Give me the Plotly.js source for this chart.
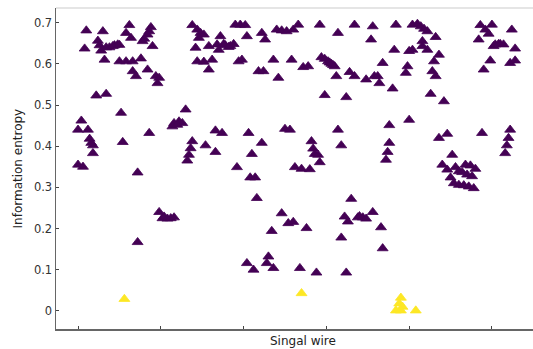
<!DOCTYPE html>
<html>
<head>
<meta charset="utf-8">
<script src="https://cdn.plot.ly/plotly-3.0.1.min.js"></script>
<style>html,body{margin:0;padding:0;background:#fff;}#chart{width:533px;height:349px;}</style>
</head>
<body>
<div id="chart"></div>
<script>
// Signal wire index and information entropy, cluster 0 (purple)
const wireA = [5,15,31,29,32,12,13,14,4,19,22,24,17,21,25,16,25,29,33,33,35,11,17,26,2,0,6,7,8,9,9,27,0,3,36,36,
  44,43,42,40,39,45,38,42,47,49,48,69,72,74,76,73,71,79,72,76,79,81,65,61,58,63,57,60,43,69,68,67,66,77,49,51,52,54,56,58,
  83,87,83,95,98,101,102,86,84,89,92,94,85,88,91,111,113,120,123,126,130,97,99,109,112,118,129,121,103,111,105,125,128,96,104,107,131,108,123,127,130,117,102,106,115,114,118,134,
  133,146,157,167,177,178,147,149,151,152,153,154,155,136,139,156,164,167,174,179,149,162,157,159,141,142,143,145,146,135,140,165,161,163,169,170,172,174,178,138,159,144,162,
  192,202,205,207,209,211,216,208,208,211,191,200,202,218,215,184,199,198,214,216,181,182,190,213,221,188,200,188,187,186,218,223,226,220,223,225,227,183,184,
  243,250,246,248,242,262,251,252,254,255,257,264,249,245,261,264,244,261,260,259,258,228,230,232,234,237,240,235,238,230,233,236,239];
const entropyA = [0.681,0.679,0.694,0.675,0.663,0.656,0.645,0.632,0.637,0.640,0.645,0.647,0.640,0.643,0.646,0.610,0.606,0.606,0.606,0.582,0.570,0.523,0.527,0.481,0.462,0.440,0.440,0.418,0.408,0.402,0.383,0.410,0.355,0.350,0.336,0.167,
  0.689,0.679,0.671,0.661,0.655,0.643,0.613,0.586,0.570,0.566,0.553,0.694,0.683,0.675,0.671,0.663,0.639,0.643,0.606,0.605,0.586,0.610,0.489,0.460,0.456,0.456,0.448,0.452,0.432,0.412,0.395,0.379,0.365,0.402,0.240,0.225,0.229,0.224,0.225,0.227,
  0.438,0.432,0.386,0.695,0.695,0.694,0.667,0.667,0.647,0.645,0.643,0.648,0.634,0.648,0.641,0.675,0.659,0.683,0.681,0.679,0.683,0.606,0.610,0.582,0.582,0.610,0.610,0.566,0.432,0.408,0.381,0.442,0.440,0.349,0.324,0.324,0.349,0.274,0.237,0.213,0.216,0.194,0.116,0.100,0.132,0.116,0.104,0.104,
  0.695,0.695,0.675,0.695,0.659,0.691,0.616,0.612,0.606,0.603,0.600,0.597,0.594,0.592,0.594,0.570,0.580,0.570,0.562,0.570,0.524,0.519,0.440,0.402,0.412,0.394,0.381,0.379,0.361,0.345,0.344,0.272,0.229,0.217,0.227,0.230,0.227,0.224,0.240,0.201,0.178,0.093,0.093,
  0.695,0.695,0.697,0.691,0.685,0.679,0.665,0.655,0.643,0.634,0.634,0.631,0.634,0.622,0.606,0.602,0.594,0.578,0.582,0.570,0.570,0.553,0.540,0.527,0.509,0.451,0.464,0.408,0.386,0.367,0.420,0.430,0.379,0.355,0.343,0.324,0.310,0.203,0.152,
  0.694,0.695,0.683,0.673,0.659,0.683,0.643,0.647,0.648,0.648,0.647,0.637,0.608,0.586,0.602,0.608,0.432,0.440,0.420,0.402,0.383,0.349,0.339,0.337,0.355,0.353,0.345,0.331,0.327,0.306,0.305,0.302,0.298];
// cluster 1 (yellow)
const wireB = [28,135,195,194,196,192,195,204];
const entropyB = [0.029,0.043,0.032,0.018,0.010,0.001,0.001,0.001];

const xTicks = [0,50,100,150,200,250];
const yTicks = [0,0.1,0.2,0.3,0.4,0.5,0.6,0.7];
const yTickText = ['0','0.1','0.2','0.3','0.4','0.5','0.6','0.7'];

const mk = (c) => ({symbol:'triangle-up', size:9.5, color:c, line:{color:c, width:0.8}});
const traces = [
  {x:wireA, y:entropyA, type:'scatter', mode:'markers', marker:mk('#440154'), cliponaxis:false},
  {x:wireB, y:entropyB, type:'scatter', mode:'markers', marker:mk('#fde725'), cliponaxis:false}
];
const layout = {
  width:533, height:349,
  margin:{l:56, r:0, t:8, b:20},
  paper_bgcolor:'#fff', plot_bgcolor:'#fff',
  showlegend:false, hovermode:false,
  font:{family:'DejaVu Sans, sans-serif', size:11, color:'#333'},
  xaxis:{range:[-13.3,274.8], showgrid:false, zeroline:false, showline:true, linecolor:'#666', linewidth:1.5,
    tickvals:xTicks, showticklabels:false, ticks:'inside', ticklen:3, tickcolor:'#444', tickwidth:1},
  yaxis:{range:[-0.0438,0.7357], showgrid:false, zeroline:false, showline:true, linecolor:'#666', linewidth:1.5,
    tickvals:yTicks, ticktext:yTickText, ticks:'inside', ticklen:3, tickcolor:'#444', tickwidth:1,
    tickfont:{family:'DejaVu Sans, sans-serif', size:11.5, color:'#333'}},
  shapes:[{type:'line', xref:'paper', yref:'paper', x0:0, x1:1, y0:1, y1:1, line:{color:'#cccccc', width:1.2}}],
  annotations:[
    {text:'Singal wire', xref:'paper', yref:'paper', x:0.518, y:-0.038, xanchor:'center', yanchor:'middle', showarrow:false,
      font:{family:'DejaVu Sans, sans-serif', size:12, color:'#222'}},
    {text:'Information entropy', xref:'paper', yref:'paper', x:-0.0797, y:0.5, xanchor:'center', yanchor:'middle', textangle:-90, showarrow:false,
      font:{family:'DejaVu Sans, sans-serif', size:12, color:'#222'}}
  ]
};
Plotly.newPlot('chart', traces, layout, {staticPlot:true, displayModeBar:false});
</script>
</body>
</html>
